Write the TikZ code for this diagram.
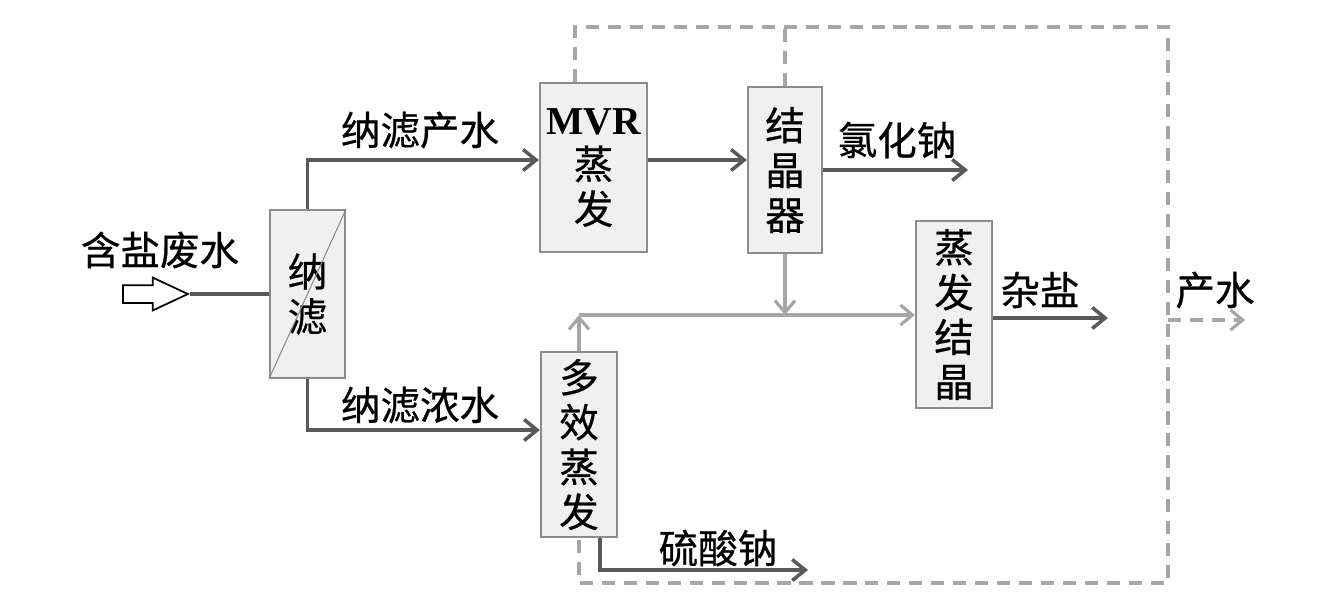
\documentclass[tikz,border=0pt]{standalone}
\usepackage{fontspec}
\setmainfont{Noto Sans CJK SC}[FakeBold=0.6]
\newfontfamily\mvrfont{Liberation Serif}
\usepackage{tikz}
\usetikzlibrary{arrows.meta,positioning,calc,shapes.arrows}
\definecolor{boxgray}{HTML}{8C8C8C}
\definecolor{boxfill}{HTML}{F0F0F0}
\definecolor{darkflow}{HTML}{595959}
\definecolor{lightflow}{HTML}{A6A6A6}

\begin{document}
\begin{tikzpicture}[
    x=0.02cm, y=-0.02cm,
    every node/.style={font=\fontsize{22.5}{25.5}\selectfont},
    unit/.style={rectangle, draw=boxgray, line width=1.3pt, fill=boxfill, align=center, inner sep=0pt},
    flow/.style={draw=darkflow, line width=2pt, -{Straight Barb[length=2.6mm,width=4.2mm]}},
    side/.style={draw=lightflow, line width=1.8pt, -{Straight Barb[length=2.4mm,width=4mm]}},
    recycle/.style={draw=lightflow, line width=1.8pt, dash pattern=on 7.5pt off 5pt},
    feedarrow/.style={single arrow, draw=black, fill=white, line width=1pt, minimum height=1.3cm,
        single arrow head extend=0.15cm, single arrow tip angle=50, inner sep=0.16cm}
]
\useasboundingbox (0,0) rectangle (1334,610);

% Process units
\node[unit, minimum width=1.5cm, minimum height=3.36cm] (nf) at (307.5,294) {纳\\滤};
\draw[boxgray, line width=0.6pt] (nf.south west) -- (nf.north east);
\node[unit, minimum width=2.14cm, minimum height=3.38cm] (mvr) at (593.5,167.5) {{\mvrfont\bfseries MVR}\\蒸\\发};
\node[unit, minimum width=1.48cm, minimum height=3.32cm] (cry) at (785,170) {结\\晶\\器};
\node[unit, minimum width=1.52cm, minimum height=3.7cm] (mee) at (579,444.5) {多\\效\\蒸\\发};
\node[unit, minimum width=1.52cm, minimum height=3.74cm] (evc) at (954,314.5) {蒸\\发\\结\\晶};

% Junctions and free ends
\coordinate (mix) at (579,315);
\coordinate (upper) at (0,160);
\coordinate (lower) at (0,430);
\coordinate (naclout) at (968,170);
\coordinate (saltout) at (1108,318);
\coordinate (sulfout) at (808,570);
\coordinate (tr) at (1168,27);
\coordinate (br) at (1168,583);
\coordinate (waterout) at (1245,320);

% Feed
\node (feedlbl) at (160,250) {含盐废水};
\node[feedarrow, anchor=tip] (feed) at (190,294) {};
\draw[draw=darkflow, line width=2pt] (feed.tip) -- (nf.west);

% Main flows
\draw[flow] (nf.north) |- (mvr.west |- upper);
\draw[flow] (nf.south) |- (mee.west |- lower);
\draw[flow] (mvr.east |- upper) -- (cry.west |- upper);
\draw[flow] (cry.east) -- (naclout);
\draw[flow] (evc.east |- saltout) -- (saltout);
\draw[flow] ([xshift=0.42cm]mee.south) |- (sulfout);

% Mother liquor to evaporative crystallisation
\draw[side] (mee.north) -- (mix);
\draw[side] (mix) -- (mix -| evc.west);
\draw[side] (cry.south) -- (cry.south |- mix);

% Condensate loop
\draw[recycle] ([xshift=-0.37cm]mvr.north) |- (tr) -- (br) -| (mee.south);
\draw[recycle] (cry.north) -- (cry.north |- tr);
\draw[recycle, -{Straight Barb[length=2.4mm,width=4mm]}] (br |- waterout) -- (waterout);

% Stream labels
\node (permlbl) at (420,130) {纳滤产水};
\node (conclbl) at (420,405) {纳滤浓水};
\node (nacllbl) at (897,140) {氯化钠};
\node (saltlbl) at (1040,290) {杂盐};
\node (sulflbl) at (718,548) {硫酸钠};
\node (waterlbl) at (1215,290) {产水};

\end{tikzpicture}
\end{document}
